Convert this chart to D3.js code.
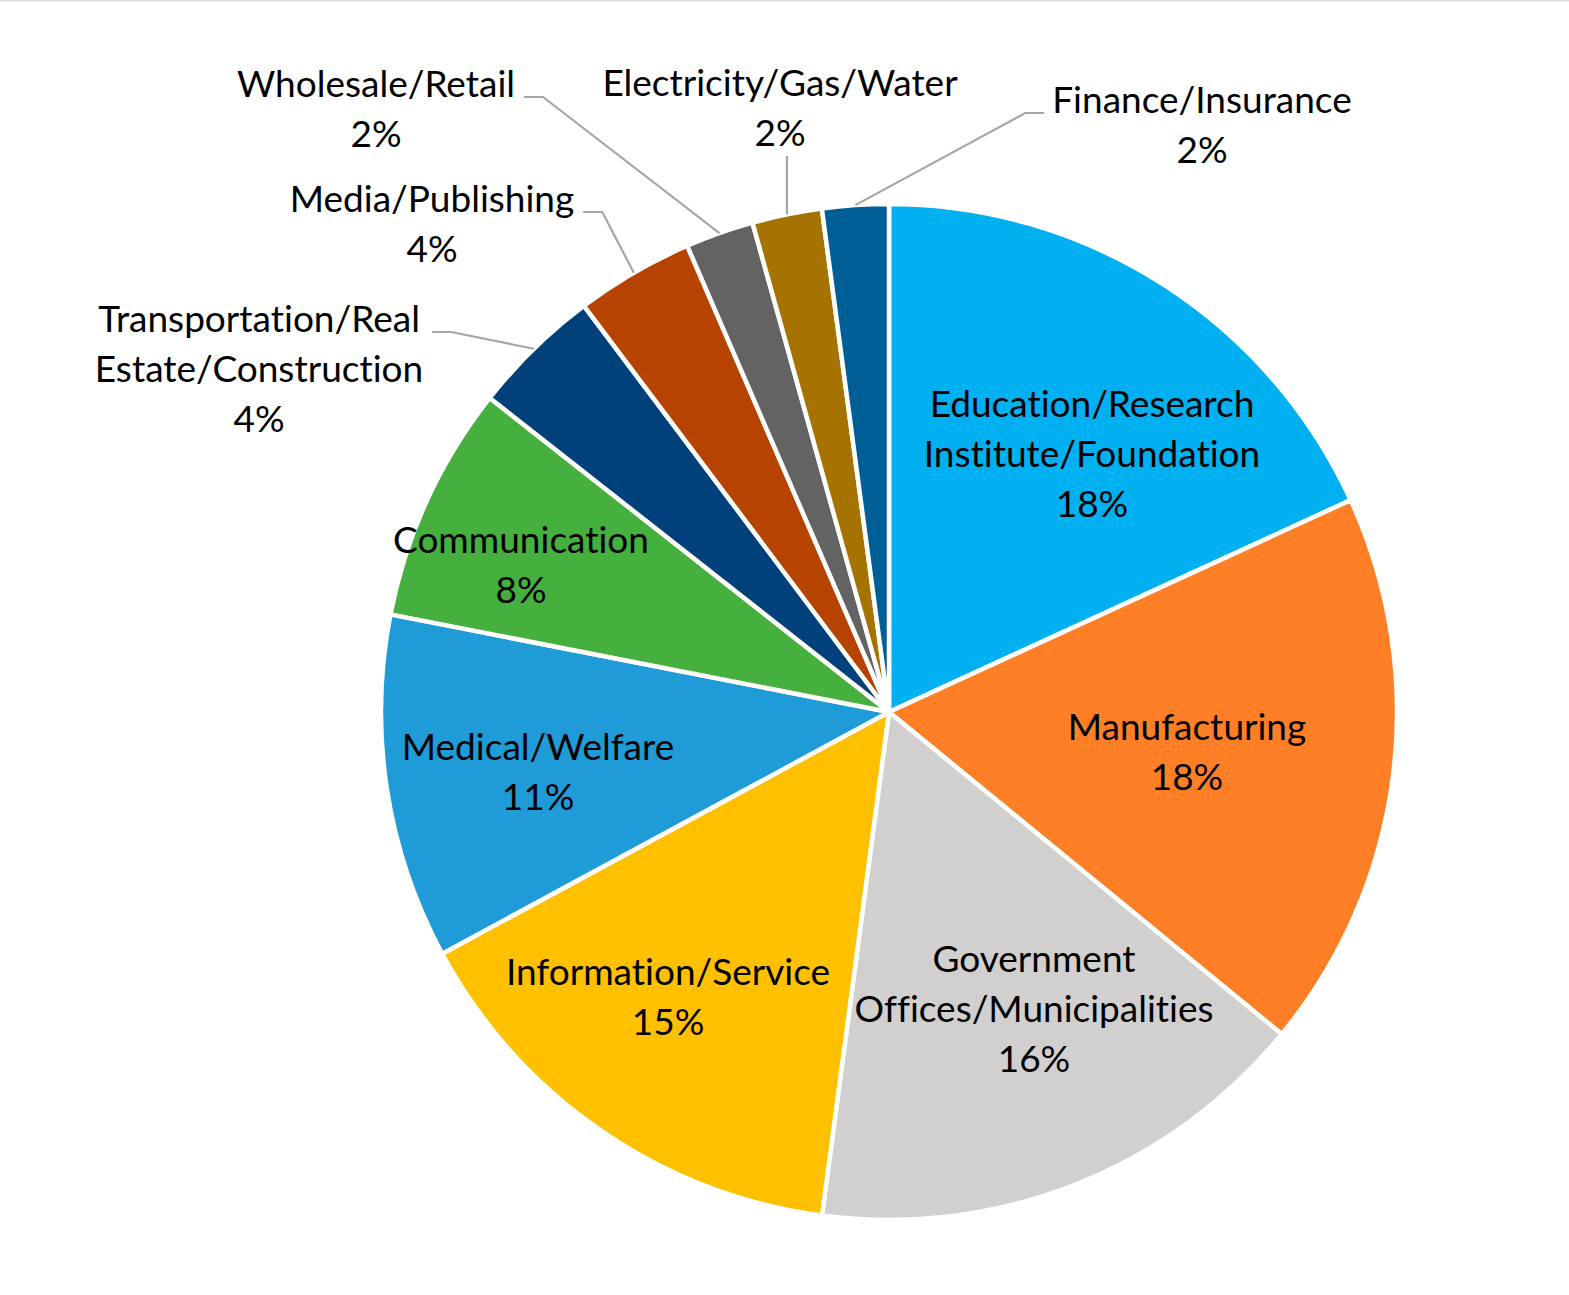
<!DOCTYPE html>
<html>
<head>
<meta charset="utf-8">
<script src="https://cdn.jsdelivr.net/npm/d3@7"></script>
<style>
  body { margin: 0; background: #fff; }
  #chart { width: 1569px; height: 1295px; }
</style>
</head>
<body>
<div id="chart"></div>
<script>
// data (share of respondents, %)
const categories = [
    "Education/Research Institute/Foundation",
    "Manufacturing",
    "Government Offices/Municipalities",
    "Information/Service",
    "Medical/Welfare",
    "Communication",
    "Transportation/Real Estate/Construction",
    "Media/Publishing",
    "Wholesale/Retail",
    "Electricity/Gas/Water",
    "Finance/Insurance"
];
const values = [18.15, 17.78, 16.17, 15.0, 10.97, 7.53, 4.14, 3.75, 2.17, 2.22, 2.11];
const colors = ["#00B0F0", "#FF7F27", "#D1D0CF", "#FFC000", "#1F9BD7", "#45B03D",
                "#00417B", "#B64400", "#636363", "#A67300", "#005F97"];

// how each label wraps, as Excel broke them
const labelLines = [
    ["Education/Research", "Institute/Foundation"],
    ["Manufacturing"],
    ["Government", "Offices/Municipalities"],
    ["Information/Service"],
    ["Medical/Welfare"],
    ["Communication"],
    ["Transportation/Real", "Estate/Construction"],
    ["Media/Publishing"],
    ["Wholesale/Retail"],
    ["Electricity/Gas/Water"],
    ["Finance/Insurance"]
];

// label placement (centre x, first baseline, relative to the pie centre) and leader flag
const labelPos = [
    {dx: 203, dy: -295}, {dx: 298, dy: 28}, {dx: 145, dy: 260}, {dx: -221, dy: 273},
    {dx: -351, dy: 48}, {dx: -368, dy: -159},
    {dx: -630, dy: -380, leader: true}, {dx: -457, dy: -500, leader: true},
    {dx: -513, dy: -615, leader: true}, {dx: -109, dy: -616, leader: true},
    {dx: 313, dy: -599, leader: true}
];

const width = 1569, height = 1295;
const cx = 889, cy = 712, radius = 508;
const lineH = 50;

const svg = d3.select("#chart").append("svg")
    .attr("width", width)
    .attr("height", height);

// chart frame, only its top edge is in view
svg.append("line")
    .attr("x1", 0).attr("x2", width)
    .attr("y1", 0.5).attr("y2", 0.5)
    .attr("stroke", "#D9D9D9").attr("stroke-width", 1.5);

const data = categories.map((c, i) => ({name: c, value: values[i], color: colors[i], lines: labelLines[i], pos: labelPos[i]}));

const pie = d3.pie().sort(null).value(d => d.value);
const arc = d3.arc().innerRadius(0).outerRadius(radius);
const edge = d3.arc().innerRadius(radius).outerRadius(radius);

const g = svg.append("g").attr("transform", `translate(${cx},${cy})`);
const arcs = pie(data);

g.selectAll("path.slice")
    .data(arcs)
    .join("path")
    .attr("class", "slice")
    .attr("d", arc)
    .attr("fill", d => d.data.color)
    .attr("stroke", "#fff")
    .attr("stroke-width", 4.5)
    .attr("stroke-linejoin", "round");

const fmt = v => Math.round(v) + "%";

const labels = g.selectAll("text.label")
    .data(arcs)
    .join("text")
    .attr("class", "label")
    .attr("text-anchor", "middle")
    .attr("font-family", "Lato, 'Open Sans', sans-serif")
    .attr("font-size", 37)
    .style("font-variant-ligatures", "none")
    .attr("fill", "#000");

labels.each(function(d) {
    const t = d3.select(this);
    const rows = d.data.lines.concat([fmt(d.data.value)]);
    rows.forEach((r, k) => {
        t.append("tspan")
            .attr("x", d.data.pos.dx)
            .attr("y", d.data.pos.dy + k * lineH)
            .text(r);
    });
});

// leader lines for the small slices: from the label to the rim at the slice middle
const leaders = g.append("g").attr("class", "leaders");
labels.filter(d => d.data.pos.leader).each(function(d) {
    const bb = this.getBBox();
    const p = edge.centroid(d);
    const yBase = d.data.pos.dy;
    let pts;
    if (p[0] >= bb.x && p[0] <= bb.x + bb.width) {
        pts = [[p[0], bb.y + bb.height + 2], p];
    } else if (p[0] > bb.x + bb.width) {
        const x0 = bb.x + bb.width + 9;
        pts = [[x0, yBase], [x0 + 19, yBase], p];
    } else {
        const x0 = bb.x - 8;
        pts = [[x0, yBase], [x0 - 19, yBase], p];
    }
    leaders.append("path")
        .attr("d", d3.line()(pts))
        .attr("fill", "none")
        .attr("stroke", "#A6A6A6")
        .attr("stroke-width", 2.2);
});
</script>
</body>
</html>
